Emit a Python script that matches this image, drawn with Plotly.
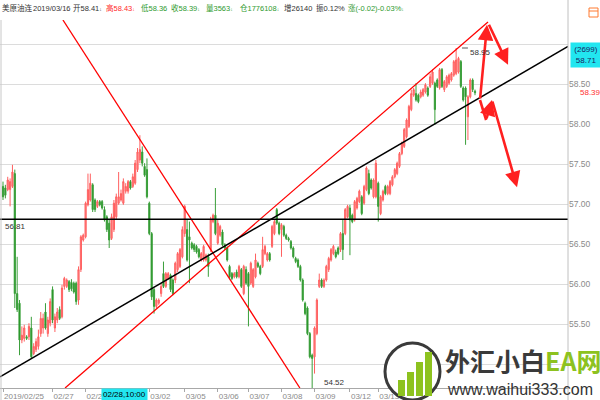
import plotly.graph_objects as go

# ---------------- data: hourly candles (index = bar number) ----------------
opens = [
    57.22, 57.20, 57.18, 57.18, 57.22, 57.38, 55.88, 55.76, 55.30, 55.32,
    55.34, 55.34, 55.45, 55.13, 55.18, 55.22, 55.38, 55.45, 55.65, 55.38,
    55.51, 55.93, 55.45, 55.55, 55.68, 55.59, 55.97, 55.97, 56.03, 56.02,
    56.01, 56.01, 55.80, 56.18, 56.55, 56.59, 56.99, 57.05, 57.24, 57.05,
    56.97, 57.03, 57.03, 56.93, 56.84, 56.76, 56.57, 56.68, 56.84, 57.01,
    57.05, 57.01, 57.16, 57.16, 57.28, 57.22, 57.26, 57.43,
    57.55, 57.65, 57.47, 57.43, 57.01, 56.63, 55.93, 55.72, 55.76, 55.88,
    56.13, 55.97, 56.07, 56.11, 56.05, 56.05, 56.18, 56.22, 56.34, 56.63,
    56.68, 56.59, 56.51, 56.49, 56.47, 56.43, 56.30, 56.30, 56.30, 56.34,
    56.43, 56.78, 56.86, 56.51, 56.61, 56.65, 56.49, 56.45, 56.22, 56.13,
    56.09, 56.15, 56.09, 56.18, 55.88, 56.18, 56.13, 56.01, 55.97, 56.09,
    56.26, 56.22, 56.22, 56.38, 56.30, 56.38, 56.47, 56.63,
    56.93, 56.76, 56.68, 56.72, 56.61, 56.57, 56.53, 56.45, 56.32, 56.30,
    56.22, 56.05, 55.76, 55.70, 55.38, 55.11, 55.09, 55.38, 55.97, 56.05,
    55.97, 56.05, 56.18, 56.30, 56.38, 56.40, 56.45, 56.43, 56.63, 56.63,
    56.84, 56.95, 56.86, 56.80, 56.95, 57.03, 57.09, 57.01, 57.18, 57.38,
    57.30, 57.09, 57.09, 57.26, 56.88, 57.05, 57.22, 57.13, 57.13, 57.24,
    57.34, 57.38, 57.47, 57.63, 57.72, 57.84, 57.97,
    58.18, 58.36, 58.38, 58.36, 58.34, 58.36, 58.40, 58.45, 58.47, 58.51,
    58.51, 58.55, 58.45, 58.68, 58.43, 58.47, 58.51, 58.55, 58.61, 58.63,
    58.65, 58.78, 58.45, 58.45, 58.09, 58.34, 58.55, 58.41,
]
highs = [
    57.28, 57.24, 57.34, 57.32, 57.49, 57.43, 56.34, 55.80, 55.47, 55.49,
    55.36, 55.51, 55.59, 55.26, 55.32, 55.43, 55.65, 55.63, 55.76, 55.59,
    55.82, 55.97, 55.63, 55.70, 55.72, 55.99, 56.09, 56.07, 56.05, 56.06,
    56.03, 56.03, 56.22, 56.61, 56.63, 57.03, 57.38, 57.38, 57.26, 57.07,
    57.05, 57.05, 57.05, 56.97, 56.86, 56.80, 56.88, 57.05, 57.13, 57.40,
    57.18, 57.32, 57.26, 57.30, 57.30, 57.38, 57.55, 57.70,
    57.86, 57.72, 57.51, 57.57, 57.03, 56.65, 55.95, 55.82, 55.82, 56.01,
    56.28, 56.15, 56.15, 56.13, 56.07, 56.28, 56.40, 56.45, 56.72, 56.99,
    56.80, 56.78, 56.53, 56.51, 56.49, 56.45, 56.40, 56.49, 56.38, 56.38,
    56.84, 56.88, 57.20, 56.80, 56.74, 56.68, 56.51, 56.47, 56.24, 56.15,
    56.15, 56.18, 56.24, 56.20, 56.24, 56.22, 56.15, 56.28, 56.20, 56.38,
    56.28, 56.24, 56.59, 56.49, 56.40, 56.40, 56.74, 56.80,
    56.95, 56.78, 56.76, 56.74, 56.63, 56.59, 56.55, 56.47, 56.34, 56.32,
    56.24, 56.07, 55.78, 55.72, 55.40, 55.13, 55.47, 55.82, 56.13, 56.07,
    56.07, 56.24, 56.34, 56.45, 56.49, 56.43, 56.47, 56.65, 56.80, 56.95,
    56.99, 56.99, 56.88, 57.05, 57.09, 57.18, 57.11, 57.24, 57.47, 57.43,
    57.32, 57.32, 57.55, 57.28, 57.11, 57.18, 57.24, 57.24, 57.30, 57.36,
    57.45, 57.53, 57.65, 57.78, 57.95, 58.07, 58.24,
    58.43, 58.45, 58.51, 58.38, 58.43, 58.45, 58.51, 58.47, 58.63, 58.68,
    58.53, 58.57, 58.70, 58.70, 58.55, 58.61, 58.63, 58.65, 58.80, 58.95,
    58.84, 58.80, 58.47, 58.47, 58.36, 58.57, 58.57, 58.43,
]
lows = [
    57.05, 57.07, 57.16, 56.97, 57.20, 55.70, 55.65, 55.11, 55.26, 55.28,
    55.30, 55.30, 55.07, 55.11, 55.15, 55.18, 55.34, 55.38, 55.43, 55.34,
    55.47, 55.51, 55.40, 55.51, 55.55, 55.57, 55.93, 55.95, 55.90, 55.91,
    55.88, 55.74, 55.74, 56.15, 56.53, 56.57, 56.97, 57.03, 56.90, 56.90,
    56.95, 56.97, 56.93, 56.78, 56.65, 56.45, 56.55, 56.65, 56.80, 56.99,
    57.03, 56.99, 57.13, 57.13, 57.18, 57.20, 57.24, 57.40,
    57.51, 57.47, 57.34, 57.07, 56.61, 55.80, 55.63, 55.70, 55.74, 55.84,
    55.95, 55.95, 56.05, 55.90, 55.86, 56.01, 56.15, 56.20, 56.32, 56.59,
    56.28, 56.01, 56.43, 56.40, 56.38, 56.32, 56.28, 56.28, 56.28, 56.09,
    56.40, 56.76, 56.61, 56.49, 56.59, 56.47, 56.43, 56.28, 56.07, 56.05,
    56.07, 56.07, 56.07, 55.95, 55.86, 55.99, 55.47, 55.99, 55.95, 56.07,
    56.20, 56.11, 56.20, 56.36, 56.28, 56.28, 56.45, 56.61,
    56.74, 56.61, 56.34, 56.59, 56.55, 56.53, 56.43, 56.32, 56.26, 56.20,
    56.03, 55.78, 55.61, 55.36, 55.07, 54.52, 54.88, 55.36, 55.95, 55.95,
    55.95, 56.03, 56.15, 56.28, 56.36, 56.32, 56.36, 56.40, 56.30, 56.61,
    56.82, 56.36, 56.76, 56.78, 56.93, 57.01, 56.86, 56.99, 57.16, 57.11,
    57.18, 57.07, 57.07, 56.78, 56.86, 57.03, 57.11, 57.11, 57.11, 57.22,
    57.32, 57.36, 57.45, 57.61, 57.70, 57.82, 57.95,
    58.16, 58.34, 58.28, 58.26, 58.32, 58.34, 58.38, 58.34, 58.45, 58.49,
    57.99, 58.45, 58.43, 58.45, 58.40, 58.45, 58.49, 58.53, 58.59, 58.61,
    58.63, 58.45, 58.28, 57.74, 57.80, 58.32, 58.40, 58.36,
]
closes = [
    57.09, 57.11, 57.30, 57.28, 57.40, 55.88, 55.68, 55.30, 55.36, 55.45,
    55.32, 55.47, 55.09, 55.22, 55.28, 55.34, 55.57, 55.57, 55.45, 55.55,
    55.78, 55.55, 55.59, 55.65, 55.57, 55.95, 56.07, 56.05, 55.93, 55.94,
    55.90, 55.78, 56.18, 56.59, 56.61, 57.01, 57.18, 57.26, 56.93, 56.93,
    57.03, 56.99, 56.95, 56.80, 56.68, 56.55, 56.84, 57.01, 57.09, 57.09,
    57.13, 57.28, 57.22, 57.28, 57.20, 57.34, 57.51, 57.65,
    57.68, 57.51, 57.36, 57.09, 56.63, 55.84, 55.72, 55.80, 55.80, 55.97,
    55.97, 56.13, 56.13, 55.93, 55.88, 56.26, 56.38, 56.43, 56.68, 56.97,
    56.30, 56.55, 56.45, 56.43, 56.40, 56.34, 56.38, 56.47, 56.36, 56.22,
    56.80, 56.86, 56.63, 56.76, 56.72, 56.49, 56.45, 56.30, 56.09, 56.07,
    56.13, 56.09, 56.22, 55.97, 56.22, 56.01, 55.97, 56.26, 56.18, 56.30,
    56.22, 56.13, 56.43, 56.47, 56.38, 56.30, 56.72, 56.78,
    56.76, 56.63, 56.74, 56.61, 56.57, 56.55, 56.45, 56.34, 56.28, 56.22,
    56.05, 55.80, 55.63, 55.38, 55.09, 55.07, 55.45, 55.80, 56.05, 55.97,
    56.05, 56.22, 56.32, 56.43, 56.47, 56.34, 56.38, 56.63, 56.43, 56.93,
    56.97, 56.80, 56.78, 57.03, 57.07, 57.16, 56.88, 57.22, 57.45, 57.13,
    57.20, 57.30, 57.51, 56.97, 57.09, 57.16, 57.13, 57.22, 57.28, 57.34,
    57.43, 57.51, 57.63, 57.76, 57.93, 58.05, 58.22,
    58.38, 58.43, 58.30, 58.28, 58.40, 58.43, 58.49, 58.36, 58.59, 58.65,
    58.18, 58.47, 58.68, 58.47, 58.53, 58.59, 58.61, 58.63, 58.78, 58.80,
    58.82, 58.47, 58.30, 58.34, 58.34, 58.55, 58.43, 58.39,
]
bar_index = list(range(len(closes)))

# x-axis date labels (bar index where each session label starts)
date_tick_bars = [0, 21, 35, 62, 77, 91, 104, 118, 132, 147, 159]
date_tick_labels = ["2019/02/25", "02/27", "02/28", "03/02", "03/05", "03/06",
                    "03/07", "03/08", "03/09", "03/12", "03/13"]

# price grid; the 55.00 and 59.00 labels are hidden behind the watermark / value box
price_ticks = [55.0, 55.5, 56.0, 56.5, 57.0, 57.5, 58.0, 58.5, 59.0]
price_tick_text = ["", "55.50", "56.00", "56.50", "57.00", "57.50", "58.00", "58.50", ""]

# quote header items: (text, colour)
header_items = [
    ("美原油连", "#333333"), ("2019/03/16", "#333333"), ("开58.41↓", "#333333"),
    ("高58.43↓", "#ff2a2a"), ("低58.36", "#2e9a2e"), ("收58.39↓", "#2e9a2e"),
    ("量3563↓", "#2e9a2e"), ("仓1776108↓", "#2e9a2e"), ("增26140", "#333333"),
    ("振0.12%", "#333333"), ("涨(-0.02)-0.03%↓", "#2e9a2e"),
]

# hand-drawn analysis lines: (bar, price) end points
red_down_x, red_down_y = [25.4, 125.8], [59.30, 54.70]
red_up_x, red_up_y = [26.3, 205.5], [54.70, 59.275]
black_x, black_y = [-1.27, 239.4], [54.84, 58.97]
support_level = 56.81

# arrows: (tail bar, tail price, head bar, head price)
arrows = [
    (202.1, 58.30, 205.1, 59.24),
    (205.6, 59.26, 214.0, 58.74),
    (204.7, 58.05, 207.2, 58.30),
    (207.2, 58.30, 217.8, 57.21),
]
zig_x, zig_y = [202.1, 204.7], [58.30, 58.05]

X_RANGE = [-1.27, 239.4]
Y_RANGE = [54.70, 59.30]

# ---------------- figure ----------------
fig = go.Figure()
fig.add_trace(go.Candlestick(
    x=bar_index, open=opens, high=highs, low=lows, close=closes,
    increasing=dict(line=dict(color="#ff6060", width=1), fillcolor="#ff8585"),
    decreasing=dict(line=dict(color="#3a9f3a", width=1), fillcolor="#128a12"),
    whiskerwidth=0, showlegend=False, hoverinfo="skip",
))

for xs, ys, col, w in [(red_down_x, red_down_y, "#ff0000", 1.3),
                       (red_up_x, red_up_y, "#ff0000", 1.3),
                       (black_x, black_y, "#000000", 1.5),
                       (X_RANGE, [support_level, support_level], "#000000", 1.6),
                       (zig_x, zig_y, "#ff2020", 2.6)]:
    fig.add_trace(go.Scatter(x=xs, y=ys, mode="lines", line=dict(color=col, width=w),
                             showlegend=False, hoverinfo="skip"))

PW, PH, ML, MT = 568.0, 368.0, 0.0, 20.0
def px_x(p):
    return (p - ML) / PW
def px_y(p):
    return (MT + PH - p) / PH

annotations = []
for tx, ty, hx, hy in arrows:
    annotations.append(dict(x=hx, y=hy, ax=tx, ay=ty, xref="x", yref="y", axref="x", ayref="y",
                            text="", showarrow=True, arrowhead=2, arrowsize=1.2, arrowwidth=2.6,
                            arrowcolor="#ff2020", standoff=0, startstandoff=0))

FS = 8
HFS = 7.5
header_x = [0, 31, 71, 104, 139, 169, 204, 238, 282, 314, 346]
for (txt, col), hx in zip(header_items, header_x):
    txt = txt.replace("↓", "<span style='font-size:5px'>↓</span>")
    annotations.append(dict(xref="paper", yref="paper", x=px_x(hx), y=px_y(8), xanchor="left",
                            yanchor="middle", text=txt, showarrow=False,
                            font=dict(size=HFS, color=col, family="Liberation Sans, Noto Sans CJK SC")))

annotations += [
    dict(xref="paper", yref="y", x=px_x(3), y=56.725, xanchor="left", yanchor="middle", text="56.81",
         showarrow=False, font=dict(size=FS, color="#333333", family="Liberation Sans")),
    dict(xref="x", yref="y", x=197.2, y=58.89, xanchor="left", yanchor="middle", text="58.95",
         showarrow=False, font=dict(size=FS, color="#333333", family="Liberation Sans")),
    dict(xref="x", yref="y", x=135.2, y=54.77, xanchor="left", yanchor="middle", text="54.52",
         showarrow=False, font=dict(size=FS, color="#333333", family="Liberation Sans")),
    dict(xref="paper", yref="paper", x=px_x(570), y=px_y(55), xanchor="left", yanchor="middle",
         text="(2699)<br>58.71", showarrow=False, bgcolor="#22e6f0", borderpad=0, width=30, height=24,
         font=dict(size=FS, color="#1c1c60", family="Liberation Sans")),
    dict(xref="paper", yref="paper", x=px_x(578), y=px_y(92), xanchor="left", yanchor="middle",
         text="58.39", showarrow=False, font=dict(size=FS, color="#ff3030", family="Liberation Sans")),
    dict(xref="paper", yref="paper", x=px_x(101), y=px_y(394), xanchor="left", yanchor="middle",
         text="02/28,10:00", showarrow=False, bgcolor="#22e6f0", borderpad=1,
         font=dict(size=FS, color="#000000", family="Liberation Sans")),
    dict(xref="paper", yref="paper", x=px_x(443), y=px_y(360), xanchor="left", yanchor="middle",
         text="<b>外汇小白</b><b><span style='color:#8dc21f'>EA网</span></b>", showarrow=False,
         font=dict(size=25, color="#3a3a3a", family="Noto Sans CJK SC")),
    dict(xref="paper", yref="paper", x=px_x(445), y=px_y(390), xanchor="left", yanchor="middle",
         text="www.waihui333.com", showarrow=False,
         font=dict(size=16, color="#333333", family="Liberation Sans")),
]

shapes = [
    dict(type="line", xref="paper", yref="paper", x0=1, x1=1, y0=px_y(400), y1=px_y(0),
         line=dict(color="#c0c0c0", width=1)),
    dict(type="line", xref="paper", yref="paper", x0=px_x(1), x1=px_x(1), y0=px_y(400), y1=px_y(20),
         line=dict(color="#c8c8c8", width=1)),
    dict(type="line", xref="x", yref="y", x0=194.5, x1=197.0, y0=58.95, y1=58.95,
         line=dict(color="#555555", width=1)),
    dict(type="rect", xref="paper", yref="paper", x0=px_x(589), x1=px_x(598), y0=px_y(17), y1=px_y(8),
         line=dict(color="#ff7a30", width=1)),
    dict(type="line", xref="paper", yref="paper", x0=px_x(589), x1=px_x(598), y0=px_y(11), y1=px_y(11),
         line=dict(color="#ff7a30", width=1)),
    dict(type="circle", xref="paper", yref="paper", x0=px_x(385), x1=px_x(440), y0=px_y(400), y1=px_y(343),
         line=dict(color="#3a3a3a", width=3), fillcolor="#ffffff"),
]
for x0, x1, top in [(398, 405, 380), (407, 414, 372), (416, 423, 362), (425, 432, 352)]:
    shapes.append(dict(type="rect", xref="paper", yref="paper", x0=px_x(x0), x1=px_x(x1),
                       y0=px_y(396), y1=px_y(top), line=dict(width=0), fillcolor="#8dc21f"))

fig.update_layout(
    width=600, height=400,
    margin=dict(l=0, r=32, t=20, b=12),
    paper_bgcolor="#ffffff", plot_bgcolor="#ffffff",
    annotations=annotations, shapes=shapes,
    xaxis=dict(range=X_RANGE, rangeslider=dict(visible=False), showgrid=False, zeroline=False,
               showline=True, linecolor="#a8a8a8", linewidth=1,
               ticks="outside", ticklen=3, tickcolor="#a8a8a8", tickangle=0,
               tickvals=date_tick_bars, ticktext=date_tick_labels,
               ticklabelposition="outside right",
               tickfont=dict(size=FS, color="#8a8a8a", family="Liberation Sans")),
    yaxis=dict(range=Y_RANGE, side="right", showgrid=True, gridcolor="#dcdcdc", gridwidth=1,
               zeroline=False, showline=False, ticks="",
               tickvals=price_ticks, ticktext=price_tick_text,
               tickfont=dict(size=FS + 0.5, color="#8a8a8a", family="Liberation Sans")),
    font=dict(family="Liberation Sans, Noto Sans CJK SC"),
)

fig.write_html("out.html", post_script="document.body.style.margin='0px';",
               config={"displayModeBar": False})
